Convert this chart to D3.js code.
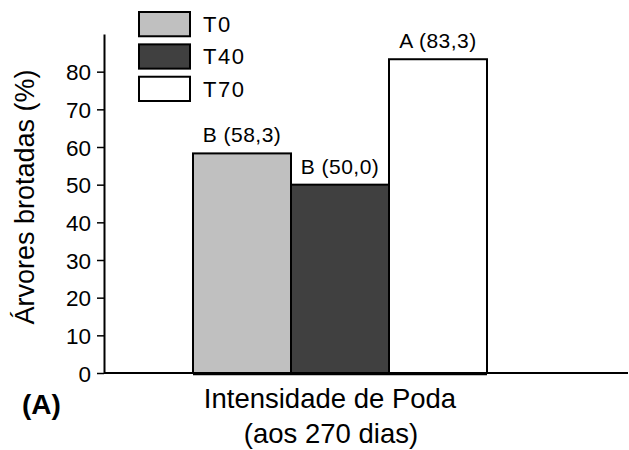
<!DOCTYPE html>
<html>
<head>
<meta charset="utf-8">
<script src="https://cdn.jsdelivr.net/npm/d3@7"></script>
<style>
  body { margin: 0; background: #fff; }
  text { font-family: Arial, "Liberation Sans", sans-serif; fill: #000; }
</style>
</head>
<body>
<svg id="chart" width="629" height="450"></svg>
<script>
var treatments = ['T0', 'T40', 'T70'];
var values = [58.3, 50.0, 83.3];
var barLabels = ['B (58,3)', 'B (50,0)', 'A (83,3)'];
var fills = ['#c0c0c0', '#404040', '#ffffff'];
var yTicks = [0, 10, 20, 30, 40, 50, 60, 70, 80];

var svg = d3.select("#chart");

var x = d3.scaleBand().domain(treatments).range([193, 487]).padding(0);
var y = d3.scaleLinear().domain([0, 90]).range([373, 34]);
var legendY = d3.scaleBand().domain(treatments).range([12, 101]).paddingInner(0.25);

// y axis
var yAxis = svg.append("g")
  .attr("transform", "translate(104,0)")
  .call(d3.axisLeft(y).tickValues(yTicks).tickSize(7).tickPadding(6).tickSizeOuter(0));
yAxis.select(".domain").attr("stroke", "#000").attr("stroke-width", 2);
yAxis.selectAll(".tick line").attr("stroke", "#000").attr("stroke-width", 1.5);
yAxis.selectAll(".tick text").style("font-size", "22.5px").attr("fill", "#000").attr("dy", "0.36em");

// bars
svg.append("g")
  .selectAll("rect")
  .data(treatments)
  .join("rect")
  .attr("x", d => x(d))
  .attr("y", (d, i) => y(values[i]))
  .attr("width", x.bandwidth())
  .attr("height", (d, i) => y(0) - y(values[i]))
  .attr("fill", (d, i) => fills[i])
  .attr("stroke", "#000")
  .attr("stroke-width", 2);

// zero line
svg.append("line")
  .attr("x1", 104).attr("x2", 628)
  .attr("y1", y(0)).attr("y2", y(0))
  .attr("stroke", "#000").attr("stroke-width", 2);
svg.append("line")
  .attr("x1", x('T0')).attr("x2", x('T70') + x.bandwidth())
  .attr("y1", y(0) + 1).attr("y2", y(0) + 1)
  .attr("stroke", "#000").attr("stroke-width", 2.5);

// bar labels
svg.append("g")
  .selectAll("text")
  .data(treatments)
  .join("text")
  .attr("x", d => x(d) + x.bandwidth() / 2)
  .attr("y", (d, i) => y(values[i]) - 11)
  .attr("text-anchor", "middle")
  .style("font-size", "21px")
  .style("letter-spacing", "0.5px")
  .text((d, i) => barLabels[i]);

// legend
var legend = svg.append("g");
legend.selectAll("rect")
  .data(treatments)
  .join("rect")
  .attr("x", 139)
  .attr("y", d => legendY(d))
  .attr("width", 51)
  .attr("height", legendY.bandwidth())
  .attr("fill", (d, i) => fills[i])
  .attr("stroke", "#000")
  .attr("stroke-width", 2);
legend.selectAll("text")
  .data(treatments)
  .join("text")
  .attr("x", 203)
  .attr("y", d => legendY(d) + legendY.bandwidth() / 2)
  .attr("dy", "0.36em")
  .style("font-size", "22px")
  .style("letter-spacing", "1.5px")
  .text(d => d);

// axis titles
svg.append("text")
  .attr("transform", "translate(34,197) rotate(-90)")
  .attr("text-anchor", "middle")
  .style("font-size", "27px")
  .text("Árvores brotadas (%)");

svg.append("text")
  .attr("x", 330).attr("y", 408)
  .attr("text-anchor", "middle")
  .style("font-size", "27.5px")
  .text("Intensidade de Poda");
svg.append("text")
  .attr("x", 331).attr("y", 443)
  .attr("text-anchor", "middle")
  .style("font-size", "27.5px")
  .text("(aos 270 dias)");

svg.append("text")
  .attr("x", 22).attr("y", 414)
  .style("font-size", "28px")
  .style("font-weight", "bold")
  .text("(A)");
</script>
</body>
</html>
